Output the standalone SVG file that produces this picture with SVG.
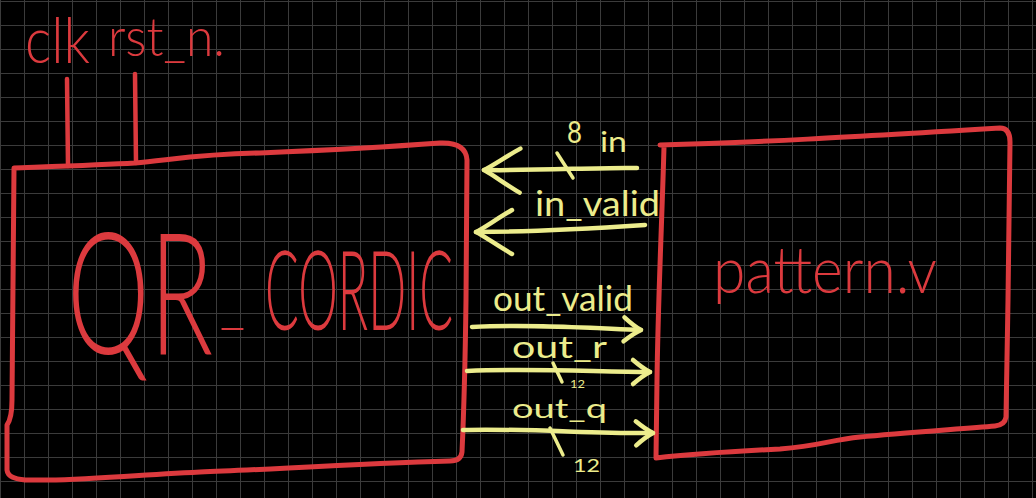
<svg xmlns="http://www.w3.org/2000/svg" width="1036" height="498" viewBox="0 0 1036 498">
  <defs>
    <pattern id="grid" x="0" y="1" width="24" height="24" patternUnits="userSpaceOnUse">
      <path d="M0.5 0 V24 M0 0.5 H24" stroke="#3b3b3b" stroke-width="1" fill="none"/>
    </pattern>
    <marker id="headBig" markerUnits="userSpaceOnUse" orient="auto" refX="0" refY="0" markerWidth="50" markerHeight="50" viewBox="-40 -25 45 50" overflow="visible">
      <path d="M-36,-22 C-22,-14 -8,-4 0,0 C-8,4 -22,14 -36,22" fill="none" stroke="#ecec8c" stroke-width="4.5" stroke-linecap="round" stroke-linejoin="round"/>
    </marker>
    <marker id="headSmall" markerUnits="userSpaceOnUse" orient="auto" refX="0" refY="0" markerWidth="30" markerHeight="30" viewBox="-20 -15 25 30" overflow="visible">
      <path d="M-17,-12 C-10,-6 -4,-2 0,0 C-4,2 -10,6 -17,12" fill="none" stroke="#ecec8c" stroke-width="4.5" stroke-linecap="round" stroke-linejoin="round"/>
    </marker>
  </defs>
  <style>
    .box { fill: none; stroke: #dc3a3e; stroke-width: 5; stroke-linecap: round; stroke-linejoin: round; }
    .wire { fill: none; stroke: #dc3a3e; stroke-width: 4.5; stroke-linecap: round; }
    .arrow { fill: none; stroke: #ecec8c; stroke-width: 4.5; stroke-linecap: round; }
    .tick { fill: none; stroke: #ecec8c; stroke-width: 3.5; stroke-linecap: round; }
    .red { fill: #dc3a3e; font-family: "Lato", "Liberation Sans", sans-serif; font-weight: 300; }
    .yel { fill: #ecec8c; font-family: "Lato", "Liberation Sans", sans-serif; font-weight: 400; }
  </style>
  <rect width="1036" height="498" fill="#000"/>
  <rect width="1036" height="498" fill="url(#grid)"/>

  <g id="qr_cordic">
    <path class="box" d="M14,168 C40,167 100,165 135,163 C170,160 200,154 260,153 C330,150 400,146 440,143 Q466,142 467,160 L466,300 C465,380 463,430 462,452 Q461,461 450,461 C350,464 260,470 200,472 C120,476 70,481 35,480 Q8,481 7,470 L7,425 Q12,418 12,400 C12,320 13,240 14,168 Z"/>
    <text class="red" transform="translate(67,354) scale(1,1.6)" font-size="106" textLength="146" lengthAdjust="spacingAndGlyphs">QR</text>
    <text class="red" x="220" y="322" font-size="60" textLength="25" lengthAdjust="spacingAndGlyphs">_</text>
    <text class="red" transform="translate(265,330) scale(1,2.2)" font-size="50" textLength="188" lengthAdjust="spacingAndGlyphs">CORDIC</text>
  </g>

  <g id="pattern_v">
    <path class="box" d="M660,145 C750,143 850,137 1000,128 Q1010,128 1010,142 L1008,300 C1007,360 1006,400 1006,417 Q1005,425 995,426 C960,429 900,433 860,437 C830,440 820,446 780,449 C740,451 700,453 656,458 L657,380 C658,300 662,220 664,147"/>
    <text class="red" transform="translate(713,293) scale(1,1.15)" font-size="56" textLength="224" lengthAdjust="spacingAndGlyphs">pattern.v</text>
  </g>

  <g id="clk">
    <text class="red" transform="translate(25,63) scale(1,1.15)" font-size="54" textLength="65" lengthAdjust="spacingAndGlyphs">clk</text>
  </g>
  <g id="rst_n">
    <text class="red" transform="translate(108,56) scale(1,1.08)" font-size="50" textLength="117" lengthAdjust="spacingAndGlyphs">rst_n.</text>
  </g>

  <g id="connectors">
    <path class="wire" d="M67,79 L68,166"/>
    <path class="wire" d="M135,74 L136,163"/>

    <path class="arrow" d="M637,168 C600,167 540,171 484,170" marker-end="url(#headBig)"/>
    <path class="tick" d="M557,153 L573,178"/>
    <path class="arrow" d="M645,225 C600,228 540,232 476,232" marker-end="url(#headBig)"/>

    <path class="arrow" d="M472,327 C530,324 590,328 641,330" marker-end="url(#headSmall)"/>
    <path class="arrow" d="M467,371 C530,368 600,372 650,372" marker-end="url(#headSmall)"/>
    <path class="tick" d="M553,363 L562,382"/>
    <path class="arrow" d="M463,430 C520,428 600,434 653,433" marker-end="url(#headSmall)"/>
    <path class="tick" d="M550,428 L563,455"/>
  </g>

  <g id="labels">
    <text class="yel" x="567" y="143" font-size="30" textLength="15" lengthAdjust="spacingAndGlyphs">8</text>
    <text class="yel" x="600" y="152" font-size="28" textLength="27" lengthAdjust="spacingAndGlyphs">in</text>
    <text class="yel" x="535" y="216" font-size="34" textLength="125" lengthAdjust="spacingAndGlyphs">in_valid</text>
    <text class="yel" x="493" y="311" font-size="34" textLength="140" lengthAdjust="spacingAndGlyphs">out_valid</text>
    <text class="yel" x="512" y="358" font-size="30" textLength="95" lengthAdjust="spacingAndGlyphs">out_r</text>
    <text class="yel" x="570" y="388" font-size="12" textLength="15" lengthAdjust="spacingAndGlyphs">12</text>
    <text class="yel" x="512" y="418" font-size="27" textLength="95" lengthAdjust="spacingAndGlyphs">out_q</text>
    <text class="yel" x="573" y="472" font-size="18" textLength="27" lengthAdjust="spacingAndGlyphs">12</text>
  </g>
</svg>
